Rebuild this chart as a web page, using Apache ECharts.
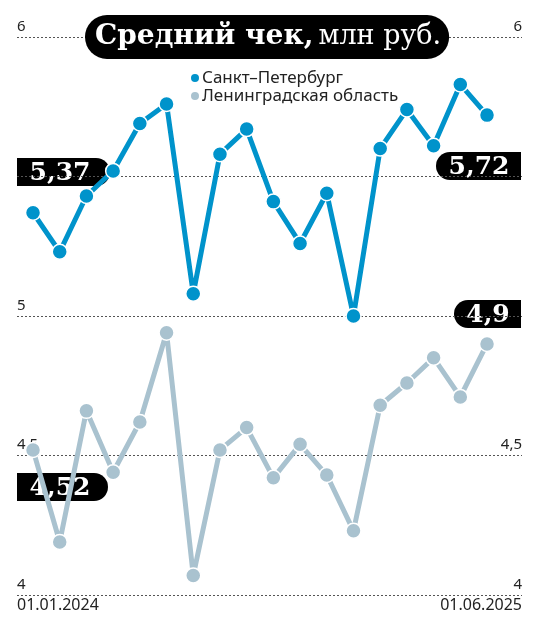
<!DOCTYPE html>
<html>
<head>
<meta charset="utf-8">
<script src="https://cdn.jsdelivr.net/npm/echarts@6/dist/echarts.min.js"></script>
<style>
  html, body { margin: 0; padding: 0; background: #fff; }
  #chart { width: 542px; height: 617px; }
</style>
</head>
<body>
<div id="chart"></div>
<script>
// месяцы: 01.01.2024 ... 01.06.2025
var months = ['01.01.2024', '01.02.2024', '01.03.2024', '01.04.2024', '01.05.2024', '01.06.2024',
  '01.07.2024', '01.08.2024', '01.09.2024', '01.10.2024', '01.11.2024', '01.12.2024',
  '01.01.2025', '01.02.2025', '01.03.2025', '01.04.2025', '01.05.2025', '01.06.2025'];
// средний чек, млн руб.
var spb = [5.37, 5.23, 5.43, 5.52, 5.69, 5.76, 5.08, 5.58, 5.67, 5.41, 5.26, 5.44, 5.00, 5.60, 5.74, 5.61, 5.83, 5.72];
var lenObl = [4.52, 4.19, 4.66, 4.44, 4.62, 4.94, 4.07, 4.52, 4.60, 4.42, 4.54, 4.43, 4.23, 4.68, 4.76, 4.85, 4.71, 4.90];
var seriesNames = ['Санкт–Петербург', 'Ленинградская область'];
var yTicks = [4, 4.5, 5, 5.5, 6];
// подписи оси, закрытые плашками
var hiddenLeft = [5.5];
var hiddenRight = [5, 5.5];

var BLUE = '#0093cb';
var GREY = '#a9c2cf';
var SERIF = '"DejaVu Serif", serif';
var SANS = '"Noto Sans", sans-serif';

var xMin = -0.6, xMax = 18.31;

function fmt(v) {
  return String(v).replace('.', ',');
}

// плашка со значением: прямоугольник со скруглённым краем + текст
function badge(x, y, w, text, textX, roundRight) {
  var h = 28, r = h / 2;
  return {
    type: 'group',
    z: 100,
    children: [{
      type: 'rect',
      shape: { x: x, y: y, width: w, height: h, r: roundRight ? [0, r, r, 0] : [r, 0, 0, r] },
      style: { fill: '#000' }
    }, {
      type: 'text',
      x: textX,
      y: y + h / 2 + 1,
      style: {
        text: text,
        fill: '#fff',
        font: 'bold 25px ' + SERIF,
        align: 'center',
        verticalAlign: 'middle'
      }
    }]
  };
}

function yLabel(hidden) {
  return {
    inside: true,
    margin: 0,
    verticalAlign: 'bottom',
    padding: [0, 0, 3, 0],
    color: '#222',
    fontSize: 15,
    fontFamily: SANS,
    formatter: function (v) {
      return hidden.indexOf(v) >= 0 ? '' : fmt(v);
    }
  };
}

var myChart = echarts.init(document.getElementById('chart'));

myChart.setOption({
  backgroundColor: '#fff',
  animation: false,
  title: {
    left: 85,
    top: 12,
    backgroundColor: '#000',
    borderRadius: 25,
    padding: [8, 8, 8, 10],
    text: '{b|Средний чек,} {r|млн руб.}',
    textStyle: {
      rich: {
        b: { color: '#fff', fontFamily: SERIF, fontWeight: 'bold', fontSize: 28, lineHeight: 34 },
        r: { color: '#fff', fontFamily: SERIF, fontWeight: 'normal', fontSize: 27, lineHeight: 34 }
      }
    }
  },
  legend: {
    orient: 'vertical',
    left: 184,
    top: 64,
    itemGap: 0,
    itemWidth: 10,
    itemHeight: 10,
    icon: 'circle',
    data: seriesNames,
    textStyle: {
      color: '#222',
      fontSize: 17,
      fontFamily: SANS,
      lineHeight: 18,
      padding: [0, 0, 0, -3]
    }
  },
  grid: { left: 17, right: 20, top: 37, bottom: 22 },
  xAxis: {
    type: 'value',
    min: xMin,
    max: xMax,
    interval: xMax - xMin,
    axisLine: { show: false },
    axisTick: { show: false },
    splitLine: { show: false },
    axisLabel: {
      margin: 2,
      color: '#222',
      fontSize: 16,
      fontFamily: SANS,
      alignMinLabel: 'left',
      alignMaxLabel: 'right',
      formatter: function (v) {
        if (Math.abs(v - xMin) < 1e-6) return months[0];
        if (Math.abs(v - xMax) < 1e-6) return months[months.length - 1];
        return '';
      }
    }
  },
  yAxis: [{
    type: 'value',
    position: 'left',
    min: yTicks[0],
    max: yTicks[yTicks.length - 1],
    interval: 0.5,
    axisLine: { show: false },
    axisTick: { show: false },
    splitLine: { lineStyle: { color: '#555', width: 1, type: [2, 2] } },
    axisLabel: yLabel(hiddenLeft)
  }, {
    type: 'value',
    position: 'right',
    min: yTicks[0],
    max: yTicks[yTicks.length - 1],
    interval: 0.5,
    axisLine: { show: false },
    axisTick: { show: false },
    splitLine: { show: false },
    axisLabel: yLabel(hiddenRight)
  }],
  series: [{
    name: seriesNames[0],
    type: 'line',
    data: spb.map(function (v, i) { return [i, v]; }),
    symbol: 'circle',
    symbolSize: 15,
    color: BLUE,
    lineStyle: { width: 5, color: BLUE },
    itemStyle: { color: BLUE, borderColor: '#fff', borderWidth: 1.5 },
    z: 3
  }, {
    name: seriesNames[1],
    type: 'line',
    data: lenObl.map(function (v, i) { return [i, v]; }),
    symbol: 'circle',
    symbolSize: 15,
    color: GREY,
    lineStyle: { width: 5, color: GREY },
    itemStyle: { color: GREY, borderColor: '#fff', borderWidth: 1.5 },
    z: 2
  }],
  graphic: [
    badge(17, 158, 93, fmt(spb[0]), 60, true),
    badge(436, 152, 85, fmt(spb[spb.length - 1]), 479, false),
    badge(454, 300, 67, fmt(lenObl[lenObl.length - 1]), 488, false),
    badge(17, 473, 91, fmt(lenObl[0]), 60, true)
  ]
});
</script>
</body>
</html>
